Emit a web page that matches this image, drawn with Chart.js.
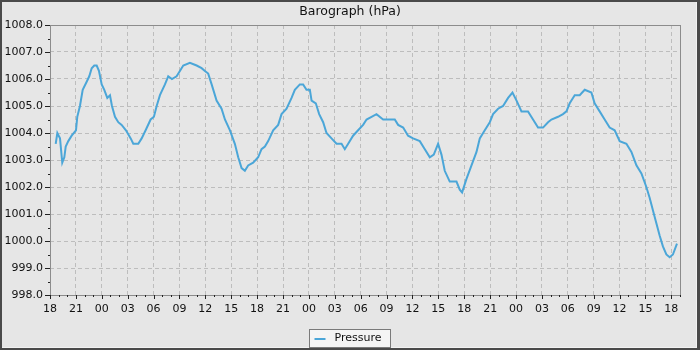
<!DOCTYPE html>
<html>
<head>
<meta charset="utf-8">
<title>Barograph</title>
<script src="https://cdn.jsdelivr.net/npm/chart.js@4"></script>
<style>
  html, body { margin: 0; padding: 0; background: #4a4a4a; }
  canvas { display: block; }
</style>
</head>
<body>
<canvas id="baroChart" width="700" height="350"></canvas>
<script>
'use strict';

// ********** DATA **********

// hours since the first 18:00 mark on the axis
let hoursElapsed = [
  0.66, 0.85, 1.16, 1.42, 1.66, 1.82, 2.12, 2.51, 3.01, 3.16,
  3.47, 3.79, 4.25, 4.55, 4.83, 5.13, 5.41, 5.67, 5.99, 6.29,
  6.64, 6.95, 7.18, 7.53, 7.91, 8.30, 8.80, 9.35, 9.65, 10.23,
  10.62, 11.08, 11.66, 12.04, 12.36, 12.74, 13.32, 13.70, 14.13, 14.67,
  15.05, 15.44, 16.21, 16.99, 17.57, 17.95, 18.33, 18.73, 19.30, 19.88,
  20.27, 20.85, 21.42, 21.81, 22.20, 22.58, 22.96, 23.54, 24.12, 24.51,
  24.90, 25.28, 25.86, 26.44, 26.83, 27.41, 27.99, 28.37, 28.95, 29.33,
  29.72, 30.11, 30.31, 30.80, 31.19, 31.65, 32.04, 32.62, 33.20, 33.78,
  34.16, 34.55, 35.12, 35.70, 36.28, 36.68, 37.26, 37.83, 38.60, 39.18,
  39.95, 40.34, 40.92, 41.49, 42.07, 42.85, 43.43, 44.01, 44.47, 44.97,
  45.36, 45.74, 46.32, 47.10, 47.48, 47.75, 48.26, 48.84, 49.42, 49.80,
  50.38, 50.96, 51.34, 51.92, 52.50, 53.08, 53.59, 54.06, 54.63, 55.39,
  55.97, 56.55, 57.13, 57.71, 58.10, 58.87, 59.44, 59.84, 60.22, 60.80,
  61.38, 61.96, 62.73, 63.11, 63.69, 64.27, 64.85, 65.43, 66.01, 66.79,
  67.37, 67.95, 68.53, 69.10, 69.48, 70.06, 70.64, 71.02, 71.42, 71.80,
  72.18, 72.65
];

let pressureHpa = [
  1003.6, 1004.0, 1003.8, 1002.9, 1003.1, 1003.5, 1003.7, 1003.9, 1004.1, 1004.6,
  1005.0, 1005.6, 1005.9, 1006.1, 1006.4, 1006.5, 1006.5, 1006.3, 1005.8, 1005.6,
  1005.3, 1005.4, 1005.0, 1004.6, 1004.4, 1004.3, 1004.1, 1003.8, 1003.6, 1003.6,
  1003.8, 1004.1, 1004.5, 1004.6, 1005.0, 1005.4, 1005.8, 1006.1, 1006.0, 1006.1,
  1006.3, 1006.5, 1006.6, 1006.5, 1006.4, 1006.3, 1006.2, 1005.8, 1005.2, 1004.9,
  1004.5, 1004.1, 1003.6, 1003.1, 1002.7, 1002.6, 1002.8, 1002.9, 1003.1, 1003.4,
  1003.5, 1003.7, 1004.1, 1004.3, 1004.7, 1004.9, 1005.3, 1005.6, 1005.8, 1005.8,
  1005.6, 1005.6, 1005.2, 1005.1, 1004.7, 1004.4, 1004.0, 1003.8, 1003.6, 1003.6,
  1003.4, 1003.6, 1003.9, 1004.1, 1004.3, 1004.5, 1004.6, 1004.7, 1004.5, 1004.5,
  1004.5, 1004.3, 1004.2, 1003.9, 1003.8, 1003.7, 1003.4, 1003.1, 1003.2, 1003.6,
  1003.2, 1002.6, 1002.2, 1002.2, 1001.9, 1001.8, 1002.3, 1002.8, 1003.3, 1003.8,
  1004.1, 1004.4, 1004.7, 1004.9, 1005.0, 1005.3, 1005.5, 1005.2, 1004.8, 1004.8,
  1004.5, 1004.2, 1004.2, 1004.4, 1004.5, 1004.6, 1004.7, 1004.8, 1005.1, 1005.4,
  1005.4, 1005.6, 1005.5, 1005.1, 1004.8, 1004.5, 1004.2, 1004.1, 1003.7, 1003.6,
  1003.3, 1002.8, 1002.5, 1002.0, 1001.6, 1000.9, 1000.2, 999.8, 999.5, 999.4,
  999.5, 999.9
];

// one label every 3 hours, starting at 18:00
let xTickLabels = [
  '18', '21', '00', '03', '06', '09', '12', '15',
  '18', '21', '00', '03', '06', '09', '12', '15',
  '18', '21', '00', '03', '06', '09', '12', '15', '18'
];

let seriesName = 'Pressure';
let chartTitle = 'Barograph (hPa)';


// ********** STYLE **********

const FONT = "'DejaVu Sans', sans-serif";
const LINE_COLOR = '#4ba6d8';
const GRID_COLOR = '#bdbdbd';
const FRAME_COLOR = '#4a4a4a';
const PANEL_COLOR = '#e6e6e6';


// ********** HELPER FUNCTIONS **********

function isMajorHour(value) {
  return Math.abs(value % 3) < 1e-6;
}

function isWholeHpa(value) {
  return Math.abs(value - Math.round(value)) < 1e-6;
}

// frame, plot border, tick marks and legend box
let decorations = {
  id: 'decorations',
  beforeDraw(chart) {
    let ctx = chart.ctx;
    ctx.save();
    ctx.fillStyle = FRAME_COLOR;
    ctx.fillRect(0, 0, chart.width, chart.height);
    ctx.fillStyle = PANEL_COLOR;
    ctx.fillRect(2, 2, chart.width - 5, chart.height - 4);
    ctx.fillStyle = '#f2f2f2';
    ctx.fillRect(chart.width - 4, 2, 1, chart.height - 4);
    ctx.fillRect(2, chart.height - 3, chart.width - 5, 1);
    ctx.restore();
  },
  beforeDatasetsDraw(chart) {
    let a = chart.chartArea;
    let ctx = chart.ctx;
    ctx.save();
    ctx.strokeStyle = '#8c8c8c';
    ctx.lineWidth = 1;
    ctx.strokeRect(Math.round(a.left) + 0.5, Math.round(a.top) + 0.5,
      Math.round(a.right - a.left), Math.round(a.bottom - a.top));
    ctx.restore();
  },
  afterDraw(chart) {
    let ctx = chart.ctx;
    let a = chart.chartArea;
    let xs = chart.scales.x;
    let ys = chart.scales.y;
    ctx.save();
    ctx.strokeStyle = '#222';
    ctx.lineWidth = 1;
    ctx.beginPath();
    xs.ticks.forEach(t => {
      let px = Math.round(xs.getPixelForValue(t.value)) + 0.5;
      let len = isMajorHour(t.value) ? 4 : 2;
      ctx.moveTo(px, Math.round(a.bottom));
      ctx.lineTo(px, Math.round(a.bottom) + len);
    });
    ys.ticks.forEach(t => {
      let py = Math.round(ys.getPixelForValue(t.value)) + 0.5;
      let len = isWholeHpa(t.value) ? 5 : 2;
      ctx.moveTo(Math.round(a.left) - len, py);
      ctx.lineTo(Math.round(a.left), py);
    });
    ctx.stroke();

    // legend
    let label = chart.data.datasets[0].label;
    ctx.font = '11px ' + FONT;
    let textW = ctx.measureText(label).width;
    let boxW = Math.round(textW + 34);
    let boxX = Math.round(chart.width / 2 - boxW / 2) - 0.5;
    let boxY = 329.5;
    ctx.fillStyle = '#f4f4f4';
    ctx.fillRect(boxX, boxY, boxW, 18);
    ctx.strokeStyle = '#7a7a7a';
    ctx.strokeRect(boxX, boxY, boxW, 18);
    ctx.strokeStyle = LINE_COLOR;
    ctx.lineWidth = 2;
    ctx.beginPath();
    ctx.moveTo(boxX + 5, 339);
    ctx.lineTo(boxX + 16, 339);
    ctx.stroke();
    ctx.fillStyle = '#111';
    ctx.textBaseline = 'middle';
    ctx.fillText(label, boxX + 25, 338);
    ctx.restore();
  }
};


// ********** CHART **********

let points = hoursElapsed.map((h, i) => ({x: h, y: pressureHpa[i]}));

let chartData = {
  type: 'line',
  data: {
    datasets: [{
      label: seriesName,
      data: points,
      borderColor: LINE_COLOR,
      backgroundColor: LINE_COLOR,
      borderWidth: 2,
      pointRadius: 0,
      tension: 0,
      fill: false
    }]
  },
  options: {
    responsive: false,
    animation: false,
    layout: {padding: 0},
    plugins: {
      legend: {display: false},
      tooltip: {enabled: false},
      title: {
        display: true,
        text: chartTitle,
        color: '#111',
        font: {family: FONT, size: 12.5, weight: 'normal'},
        padding: {top: 4, bottom: 6}
      }
    },
    scales: {
      x: {
        type: 'linear',
        min: 0,
        max: 73,
        afterFit(scale) { scale.height = 55; },
        grid: {
          drawTicks: false,
          color: c => (c.tick && isMajorHour(c.tick.value)) ? GRID_COLOR : 'rgba(0,0,0,0)'
        },
        border: {display: false, dash: [4, 3]},
        ticks: {
          stepSize: 1,
          autoSkip: false,
          maxRotation: 0,
          padding: 8,
          color: '#111',
          font: {family: FONT, size: 11},
          callback: v => isMajorHour(v) ? xTickLabels[Math.round(v / 3)] : ''
        }
      },
      y: {
        min: 998,
        max: 1008,
        afterFit(scale) { scale.width = 50; },
        grid: {
          drawTicks: false,
          color: c => (c.tick && isWholeHpa(c.tick.value)) ? GRID_COLOR : 'rgba(0,0,0,0)'
        },
        border: {display: false, dash: [4, 3]},
        ticks: {
          stepSize: 0.5,
          autoSkip: false,
          padding: 7,
          color: '#111',
          font: {family: FONT, size: 11},
          callback: v => isWholeHpa(v) ? v.toFixed(1) : ''
        }
      },
      // empty spacer on the right so the plot ends at x=680 and the title stays centred
      spacer: {
        axis: 'y',
        position: 'right',
        min: 0,
        max: 1,
        afterFit(scale) { scale.width = 20; },
        grid: {display: false, drawTicks: false},
        border: {display: false},
        ticks: {display: false}
      }
    }
  },
  plugins: [decorations]
};

new Chart(document.querySelector('#baroChart'), chartData);
</script>
</body>
</html>
